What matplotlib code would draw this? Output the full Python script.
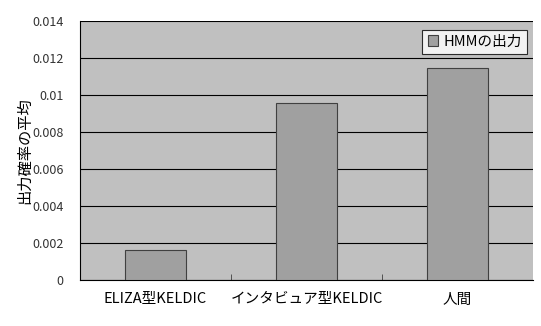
import matplotlib
matplotlib.use("Agg")
import matplotlib.pyplot as plt
import numpy as np

# データ
categories = ["ELIZA型KELDIC", "インタビュア型KELDIC", "人間"]
hmm_output = [0.0016, 0.00955, 0.01148]
series_name = "HMMの出力"
y_ticks = [0, 0.002, 0.004, 0.006, 0.008, 0.01, 0.012, 0.014]
y_tick_labels = ["0", "0.002", "0.004", "0.006", "0.008", "0.01", "0.012", "0.014"]

plt.rcParams['font.family'] = ['Noto Sans CJK JP', 'DejaVu Sans']

fig = plt.figure(figsize=(5.41, 3.26), dpi=100)
ax = fig.add_axes([80 / 541, 1 - 280 / 326, 453 / 541, 259 / 326])
ax.set_facecolor("#C0C0C0")

x = np.arange(len(categories))
ax.bar(x, hmm_output, width=0.4, color="#A0A0A0", edgecolor="#404040",
       linewidth=0.8, label=series_name, zorder=3)

ax.set_xlim(-0.5, len(categories) - 0.5)
ax.set_ylim(0, 0.014)
ax.set_yticks(y_ticks)
ax.set_yticklabels(y_tick_labels, color="#333333", fontsize=9)
ax.yaxis.grid(True, color="black", linewidth=0.8, zorder=1)
ax.tick_params(axis="y", length=0, pad=12)

# カテゴリ境界の目盛り
ax.set_xticks(x)
ax.set_xticklabels(categories, fontsize=10.5)
ax.tick_params(axis="x", length=0, pad=9)
ax.set_xticks([0.5, 1.5], minor=True)
ax.tick_params(axis="x", which="minor", direction="in", length=4, color="#404040")

for side in ["top", "right"]:
    ax.spines[side].set_visible(False)
ax.spines["left"].set_color("black")
ax.spines["bottom"].set_color("black")

ax.set_ylabel("出力確率の平均", fontsize=11, labelpad=-1)

leg = ax.legend(loc="upper right", bbox_to_anchor=(0.987, 0.967), fontsize=10.5,
                frameon=True, fancybox=False, edgecolor="black",
                handlelength=0.7, handleheight=0.7, handletextpad=0.4,
                borderpad=0.35, borderaxespad=0)
leg.get_frame().set_linewidth(0.8)

fig.savefig("out.png", dpi=100, facecolor="white")
